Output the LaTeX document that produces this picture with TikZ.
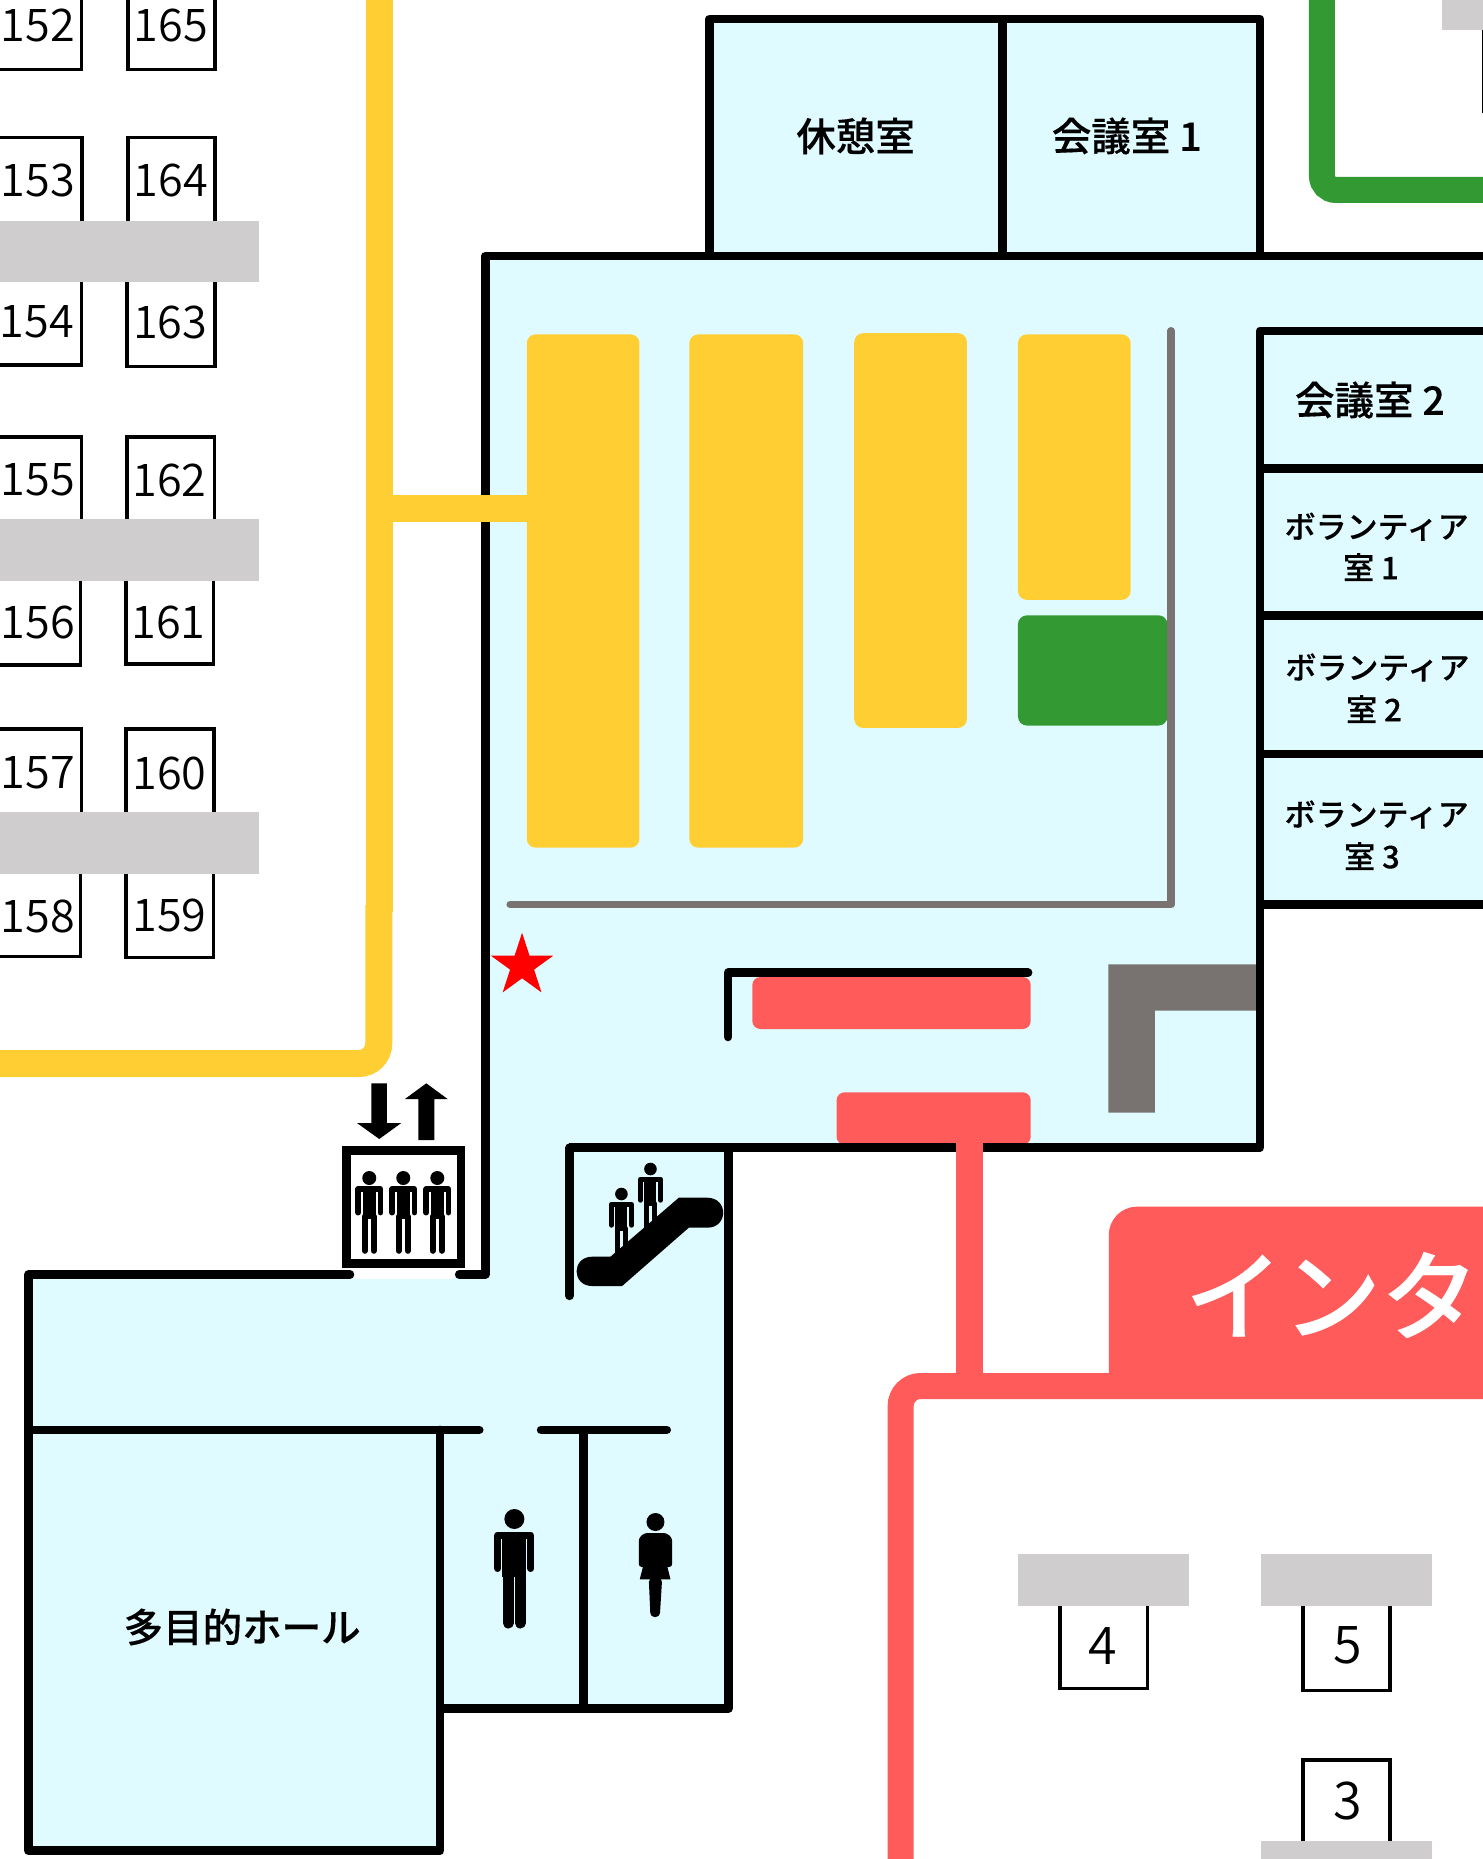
\documentclass[tikz,border=0pt]{standalone}
\usepackage{fontspec}
\setmainfont{Noto Sans CJK JP}[BoldFont={Noto Sans CJK JP Medium},BoldFeatures={FakeBold=0.35}]
\newfontfamily\numfont{Noto Sans CJK JP DemiLight}
\definecolor{roomc}{HTML}{E0FBFF}
\definecolor{yel}{HTML}{FFCE33}
\definecolor{redc}{HTML}{FF5B5B}
\definecolor{grn}{HTML}{339933}
\definecolor{lgray}{HTML}{CFCDCE}
\definecolor{dgray}{HTML}{787371}
\tikzset{
  wall/.style={draw=black,line width=8.5pt,line join=round},
  wallend/.style={wall,line cap=round},
  booth/.style={draw=black,line width=3.5pt,fill=white},
  num/.style={inner sep=0pt,font=\numfont\fontsize{45}{45}\selectfont},
  bignum/.style={inner sep=0pt,font=\numfont\fontsize{52}{52}\selectfont},
  roomlabel/.style={inner sep=0pt,font=\bfseries\fontsize{39.5}{39.5}\selectfont},
  vollabel/.style={inner sep=0pt,font=\bfseries\fontsize{31}{31}\selectfont},
  yblock/.style={fill=yel,rounded corners=9pt},
  rblock/.style={fill=redc,rounded corners=8pt},
  bar/.style={fill=lgray},
  shr/.style={scale=1.1856}
}
% x, y (head centre), scale, half torso, arm centre, arm width, leg centre, leg width
\newcommand\personicon[8]{%
\begin{scope}[shift={(#1,#2)},scale=#3]
  \fill[black] (0,0) circle (10);
  \draw[black,line width=#3*#6 pt,line cap=round,line join=round]
    (-#5,49.5) -- (-#5,16) -- (#5,16) -- (#5,49.5);
  \fill[black] (-#4,13) rectangle (#4,58);
  \draw[black,line width=#3*#8 pt,line cap=round] (-#7,55) -- (-#7,104);
  \draw[black,line width=#3*#8 pt,line cap=round] (#7,55) -- (#7,104);
\end{scope}}
\begin{document}
\begin{tikzpicture}[x=1.0007pt,y=-1pt]
\useasboundingbox (0,0) rectangle (1480.96,1859);
\clip (0,0) rectangle (1495,1859);
\fill[white] (0,0) rectangle (1495,1859);

% room fills
\begin{scope}[shr]
\fill[roomc] (598,16) rectangle (1062,216);
\fill[roomc] (409,216) -- (1262,216) -- (1262,763) -- (1062,763) -- (1062,968) -- (614,968)
  -- (614,1441) -- (371,1441) -- (371,1561) -- (24,1561) -- (24,1075) -- (409,1075) -- cycle;
\end{scope}

% top right
\draw[grn,line width=26pt,rounded corners=14pt] (1321,-10) -- (1321,190) -- (1500,190);
\fill[bar] (1441,0) rectangle (1495,30);
\draw[black,line width=1pt] (1481.5,30) -- (1481.5,113);

% booths
\draw[booth] (-6,-10) rectangle (81.5,69.5);
\draw[booth] (127.7,-10) rectangle (215,69.5);
\draw[booth] (-6,137.5) rectangle (82,240);
\draw[booth] (127.7,137.5) rectangle (215,240);
\draw[booth] (-6,260) rectangle (81.5,365);
\draw[booth] (127,260) rectangle (215,366.3);
\draw[booth] (-6,437) rectangle (81.5,540);
\draw[booth] (127,437) rectangle (214.5,540);
\draw[booth] (-6,560) rectangle (80.5,665);
\draw[booth] (126,560) rectangle (213.5,664);
\draw[booth] (-6,729) rectangle (81.5,830);
\draw[booth] (126,729) rectangle (214,830);
\draw[booth] (-6,850) rectangle (80.5,956.5);
\draw[booth] (126,850) rectangle (213.5,957.5);
\draw[booth] (1059,1590) rectangle (1146.5,1688.5);
\draw[booth] (1302,1590) rectangle (1389,1690.5);
\draw[booth] (1302,1760) rectangle (1389,1880);

% grey tables
\begin{scope}[shr]
\fill[bar] (-5,186) rectangle (218.5,238);
\fill[bar] (-5,438) rectangle (218,490);
\fill[bar] (-5,685) rectangle (218,737);
\fill[bar] (858,1311) rectangle (1002,1355);
\fill[bar] (1063,1311) rectangle (1207,1355);
\fill[bar] (1063,1553) rectangle (1207,1575);
\end{scope}

% booth numbers
\node[num] (n152) at (38,25.7) {152};
\node[num] (n165) at (170.7,25.7) {165};
\node[num] (n153) at (38,181) {153};
\node[num] (n164) at (170.7,181) {164};
\node[num] (n154) at (37,322) {154};
\node[num] (n163) at (170,323) {163};
\node[num] (n155) at (38,480) {155};
\node[num] (n162) at (169.5,480) {162};
\node[num] (n156) at (38,622) {156};
\node[num] (n161) at (168.4,622) {161};
\node[num] (n157) at (38,773) {157};
\node[num] (n160) at (169.5,773) {160};
\node[num] (n158) at (38,916.5) {158};
\node[num] (n159) at (169.5,915) {159};
\node[bignum] (n4) at (1102.4,1645.5) {4};
\node[bignum] (n5) at (1346.6,1645.5) {5};
\node[bignum] (n3) at (1346.6,1801) {3};

% yellow corridor and blocks
\draw[yel,line width=27pt] (379.5,-10) -- (379.5,912);
\draw[yel,line width=27pt,rounded corners=20pt] (378.5,905) -- (378.5,1063.5) -- (-10,1063.5);
\begin{scope}[shr]
\fill[yblock] (444,282) rectangle (539,715);
\fill[yblock] (581,282) rectangle (677,715);
\fill[yblock] (720,281) rectangle (815,614);
\fill[yblock] (858,282) rectangle (953,506);
\fill[grn,rounded corners=9pt] (858,519) rectangle (984,612);
\end{scope}

% grey partitions
\begin{scope}[shr]
\draw[dgray,line width=7.5pt,line cap=round,line join=round] (987,279) -- (987,763) -- (430,763);
\end{scope}
\fill[dgray] (1107.7,964.3) -- (1259,964.3) -- (1259,1010.7) -- (1154,1010.7) -- (1154,1112.7) -- (1107.7,1112.7) -- cycle;

% red counters
\fill[rblock] (751.8,977) rectangle (1030,1029);
\fill[rblock] (836,1092.3) rectangle (1030,1144.7);

% walls
\begin{scope}[shr]
\draw[wall] (598,216) -- (598,16) -- (1062,16) -- (1062,216);
\draw[wall] (845,16) -- (845,216);
\draw[wallend] (387,1075) -- (409,1075) -- (409,216) -- (1265,216);
\draw[wall] (1265,279) -- (1062,279) -- (1062,968) -- (480,968);
\draw[wallend] (480,968) -- (480,1093);
\draw[wall] (1062,395) -- (1265,395);
\draw[wall] (1062,519) -- (1265,519);
\draw[wall] (1062,636) -- (1265,636);
\draw[wall] (1062,763) -- (1265,763);
\draw[wall] (614,968) -- (614,1441) -- (371,1441);
\draw[wallend] (295,1075) -- (24,1075) -- (24,1561) -- (371,1561) -- (371,1206);
\draw[wallend] (24,1206) -- (404,1206);
\draw[wallend] (456,1206) -- (562,1206);
\draw[wall] (492,1206) -- (492,1441);
\end{scope}
\draw[wallend] (727.7,1037) -- (727.7,972.7) -- (1027.4,972.7);

% yellow branch over the wall, red stem and corridor over the wall
\fill[yel] (393,495) rectangle (530,522);
\fill[redc] (955.6,1140) rectangle (982,1390);
\draw[redc,line width=26pt,rounded corners=20pt] (900,1880) -- (900,1386) -- (1500,1386);
\fill[redc] (1108,1380) -- (1108,1235) .. controls (1108,1220) and (1120,1206.7) .. (1136,1206.7) -- (1495,1206.7) -- (1495,1380) -- cycle;
\node[inner sep=0pt,text=white,font=\bfseries\fontsize{98}{98}\selectfont] (banner) at (1331,1295) {インタ};

% star
\begin{scope}[shift={(521.7,965.7)}]
\fill[red] (0,-33) -- (7.4,-10.2) -- (31.4,-10.2) -- (12,3.9) -- (19.4,26.7) -- (0,12.6)
  -- (-19.4,26.7) -- (-12,3.9) -- (-31.4,-10.2) -- (-7.4,-10.2) -- cycle;
\end{scope}

% elevator
\fill[white] (355,1262) rectangle (454,1279);
\fill[white] (346,1150) rectangle (461,1264);
\draw[black,line width=8.5pt] (346.3,1150.3) rectangle (460.7,1263.7);
\personicon{369}{1178}{0.7}{9.5}{15.8}{8}{6.4}{8.6}
\personicon{403}{1178}{0.7}{9.5}{15.8}{8}{6.4}{8.6}
\personicon{437}{1178}{0.7}{9.5}{15.8}{8}{6.4}{8.6}
\fill[black] (371,1083.3) -- (386.7,1083.3) -- (386.7,1123) -- (401,1123) -- (379,1139) -- (356.7,1123) -- (371,1123) -- cycle;
\fill[black] (418,1140) -- (434,1140) -- (434,1099) -- (447.3,1099) -- (426,1083.3) -- (404.7,1099) -- (418,1099) -- cycle;

% escalator
\personicon{650}{1169}{0.63}{9.5}{15.8}{8}{6.4}{8.6}
\personicon{621}{1194}{0.63}{9.5}{15.8}{8}{6.4}{8.6}
\fill[black] (591.7,1256.7) -- (610,1256.7) -- (678.3,1197.7) -- (706.7,1197.7)
  .. controls (728,1197.7) and (728,1227.7) .. (706.7,1227.7) -- (688.3,1227.7) -- (621.7,1286) -- (591.7,1286)
  .. controls (571,1286) and (571,1256.7) .. (591.7,1256.7) -- cycle;

% toilets
\personicon{514}{1519}{1}{12}{16.5}{7}{6}{11}
\fill[black] (655,1522) circle (9);
\fill[black,rounded corners=3pt] (638.3,1567) -- (638.3,1538) -- (644,1533) -- (666,1533) -- (671.7,1538) -- (671.7,1567) -- cycle;
\fill[black] (642.7,1566) -- (666.7,1566) -- (670,1579.3) -- (639.3,1579.3) -- cycle;
\fill[black,rounded corners=4pt] (648.3,1578) -- (661.7,1578) -- (659.3,1617) -- (650,1617) -- cycle;

% room labels
\node[roomlabel] (kyukei) at (855,136) {休憩室};
\node[roomlabel] (kaigi1) at (1126,136) {会議室 1};
\node[roomlabel] (kaigi2) at (1369,400) {会議室 2};
\node[vollabel] (vol1a) at (1375.7,526.7) {ボランティア};
\node[vollabel] (vol1b) at (1370,567) {室 1};
\node[vollabel] (vol2a) at (1376.5,667.5) {ボランティア};
\node[vollabel] (vol2b) at (1373,709) {室 2};
\node[vollabel] (vol3a) at (1375.7,814.5) {ボランティア};
\node[vollabel] (vol3b) at (1371,856) {室 3};
\node[roomlabel] (hall) at (242,1627) {多目的ホール};
\end{tikzpicture}
\end{document}
